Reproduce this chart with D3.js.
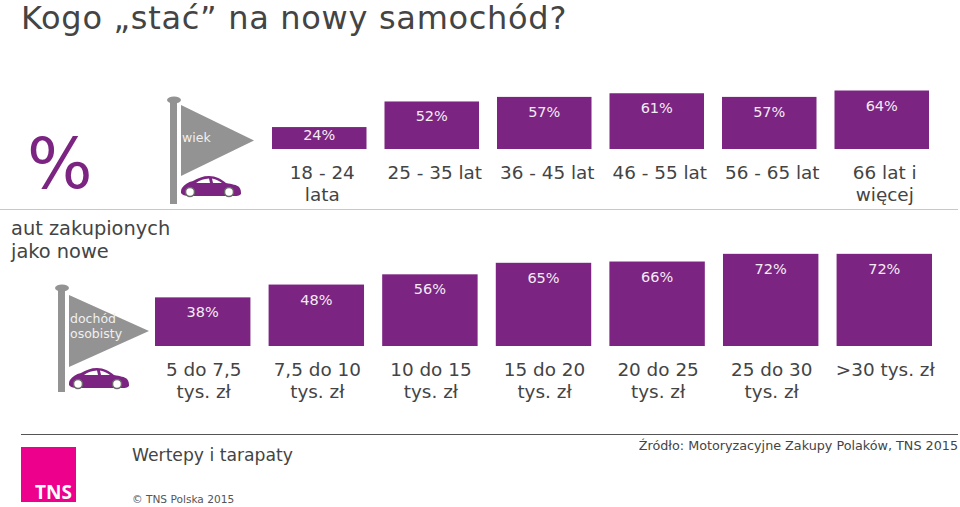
<!DOCTYPE html>
<html>
<head>
<meta charset="utf-8">
<script src="https://cdn.jsdelivr.net/npm/d3@7"></script>
<style>
body { margin: 0; background: #fff; }
text { font-family: "DejaVu Sans", sans-serif; }
</style>
</head>
<body>
<div id="vis"></div>
<script>
const ageLabels = [["18 - 24", "lata"], ["25 - 35 lat"], ["36 - 45 lat"], ["46 - 55 lat"], ["56 - 65 lat"], ["66 lat i", "więcej"]];
const ageValues = [24, 52, 57, 61, 57, 64];
const incomeLabels = [["5 do 7,5", "tys. zł"], ["7,5 do 10", "tys. zł"], ["10 do 15", "tys. zł"], ["15 do 20", "tys. zł"], ["20 do 25", "tys. zł"], ["25 do 30", "tys. zł"], [">30 tys. zł"]];
const incomeValues = [38, 48, 56, 65, 66, 72, 72];

const purple = "#7b2481", grey = "#939393", dark = "#444";
// car outline, origin at its top left corner, 60 wide and 20 high
const carBody = "M1 12 C3 9 7 6 12 5 C17 2 22 0 28 0 C35 0 40 3 45 7 C51 8 56 9 58 11 C60 13 60 16 60 18 C58 20 56 20 54 20 L8 20 C4 20 1 19 0 17 C0 15 0 13 1 12 Z";
const carWindows = "M15 7 C19 4 23 3 28 2.5 L29 7 Z M31 2.5 C35 3 38 5 41 7 L32 7 Z";

const svg = d3.select("#vis").append("svg").attr("width", 960).attr("height", 507);

function addText(x, y, str, size, fill, anchor) {
  return svg.append("text").attr("x", x).attr("y", y).text(str)
    .attr("font-size", size).attr("fill", fill).attr("text-anchor", anchor || "start");
}

function drawBars(labels, values, x0, x1, baseY, pxPerUnit, labelY, labelDx) {
  const x = d3.scaleBand().domain(d3.range(values.length)).range([x0, x1]).paddingInner(0.16);
  const y = d3.scaleLinear().domain([0, 100]).range([baseY, baseY - pxPerUnit * 100]);
  const g = svg.append("g");
  g.selectAll("rect").data(values).join("rect")
    .attr("x", (d, i) => x(i)).attr("y", d => y(d))
    .attr("width", x.bandwidth()).attr("height", d => baseY - y(d))
    .attr("fill", purple);
  // value sits near the top of the bar, short bars have less room
  g.selectAll("text.val").data(values).join("text").attr("class", "val")
    .attr("x", (d, i) => x(i) + x.bandwidth() / 2)
    .attr("y", d => y(d) + Math.min(15, (baseY - y(d)) / 2 - 3) + 5)
    .attr("text-anchor", "middle").attr("font-size", 14.5).attr("fill", "#f4ecf5")
    .text(d => d + "%");
  labels.forEach((lines, i) => {
    lines.forEach((line, j) => {
      g.append("text").attr("x", x(i) + x.bandwidth() / 2 + labelDx).attr("y", labelY + j * 22)
        .attr("text-anchor", "middle").attr("font-size", 18.4).attr("fill", dark).text(line);
    });
  });
}

function drawFlag(poleX, poleTop, poleBottom, flagTop, flagBottom, tipX, carX, carY, names, nameY) {
  svg.append("rect").attr("x", poleX - 4).attr("y", poleTop).attr("width", 7).attr("height", poleBottom - poleTop).attr("fill", grey);
  svg.append("ellipse").attr("cx", poleX).attr("cy", poleTop).attr("rx", 7).attr("ry", 3.5).attr("fill", grey);
  const fx = poleX + 7;
  svg.append("path").attr("d", `M${fx} ${flagTop} L${tipX} ${(flagTop + flagBottom) / 2} L${fx} ${flagBottom} Z`).attr("fill", grey);
  names.forEach((n, i) => addText(fx + 1, nameY + i * 15, n, 12.5, "#f0f0f0"));
  const car = svg.append("g").attr("transform", `translate(${carX},${carY})`);
  car.append("path").attr("d", carBody).attr("fill", purple);
  car.append("path").attr("d", carWindows).attr("fill", "#fff");
  [[9, 16], [48, 16]].forEach(w => {
    car.append("circle").attr("cx", w[0]).attr("cy", w[1]).attr("r", 4.5).attr("fill", "#fff").attr("stroke", "#6a6a6a").attr("stroke-width", 1.5);
  });
}

addText(21, 29, "Kogo „stać” na nowy samochód?", 32, dark).attr("letter-spacing", 0.7);

addText(27, 188, "%", 69, purple);
addText(11, 235, "aut zakupionych", 19.4, dark);
addText(11, 258, "jako nowe", 19.4, dark);

drawFlag(174, 100, 204, 105, 176, 254, 181, 176, ["wiek"], 142);
drawFlag(62, 288, 392, 295, 367, 149, 69, 368, ["dochód", "osobisty"], 323);

drawBars(ageLabels, ageValues, 272, 929, 149, 0.914, 179, 3);
drawBars(incomeLabels, incomeValues, 155, 932, 346, 1.28, 376, 1);

svg.append("line").attr("x1", 0).attr("x2", 958).attr("y1", 209.5).attr("y2", 209.5).attr("stroke", "#c8c8c8");
svg.append("line").attr("x1", 21).attr("x2", 958).attr("y1", 434.5).attr("y2", 434.5).attr("stroke", "#555");

svg.append("rect").attr("x", 21).attr("y", 447).attr("width", 55).attr("height", 55).attr("fill", "#ec008c");
addText(35, 499, "TNS", 19, "#fff").attr("font-weight", 700).style("font-family", "'Open Sans'");
addText(132, 461, "Wertepy i tarapaty", 17.2, dark);
addText(132, 503, "© TNS Polska 2015", 10.6, "#555");
addText(958, 450, "Źródło: Motoryzacyjne Zakupy Polaków, TNS 2015", 12.75, dark, "end");
</script>
</body>
</html>
